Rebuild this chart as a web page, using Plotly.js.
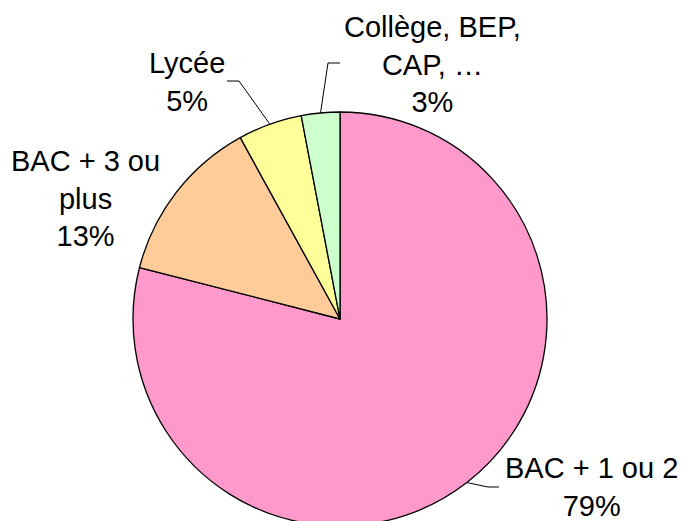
<!DOCTYPE html>
<html><head><meta charset="utf-8">
<script src="https://cdn.plot.ly/plotly-3.0.1.min.js"></script>
<style>html,body{margin:0;padding:0;overflow:hidden;background:#fff}#chart{width:681px;height:540px}</style>
</head><body><div id="chart"></div>
<script>
// Data
const labels = ["BAC + 1 ou 2", "BAC + 3 ou<br>plus", "Lycée", "Collège, BEP,<br>CAP, …"];
const values = [79, 13, 5, 3];
const percentLabels = ["79%", "13%", "5%", "3%"];
const colors = ["#FF99CC", "#FFCC99", "#FFFF99", "#CCFFCC"];

// Layout geometry (pixels)
const W = 681, H = 540;
const cx = 340, cy = 319, R = 207;
const px = x => x / W;
const py = y => 1 - y / H;

// label text centres (pixel) and leader elbows (pixel)
const labelPos = [[591, 487], [85, 198], [187, 82], [433, 65]];
const leaders = [
  {elbow: [488, 487], end: [499, 487]},
  null,
  {elbow: [239, 81], end: [227, 81]},
  {elbow: [328, 63], end: [340, 63]}
];

const total = values.reduce((a, b) => a + b, 0);
let cum = 0;
const shapes = [];
const annotations = [];
values.forEach((v, i) => {
  const mid = (cum + v / 2) / total * 2 * Math.PI;
  cum += v;
  const sx = cx + R * Math.sin(mid), sy = cy - R * Math.cos(mid);
  const L = leaders[i];
  if (L) {
    shapes.push({
      type: "path", xref: "paper", yref: "paper",
      path: `M ${px(sx)} ${py(sy)} L ${px(L.elbow[0])} ${py(L.elbow[1])} L ${px(L.end[0])} ${py(L.end[1])}`,
      line: {color: "#000", width: 1}
    });
  }
  annotations.push({
    xref: "paper", yref: "paper",
    x: px(labelPos[i][0]), y: py(labelPos[i][1]),
    xanchor: "center", yanchor: "middle",
    text: labels[i] + "<br>" + percentLabels[i],
    showarrow: false, borderpad: 0,
    font: {family: "Liberation Sans, Arial, sans-serif", size: 29, color: "#000"}
  });
});

const data = [{
  type: "pie",
  values: values,
  labels: labels,
  sort: false,
  direction: "clockwise",
  rotation: 0,
  textinfo: "none",
  hoverinfo: "none",
  marker: {colors: colors, line: {color: "#000", width: 1.3}},
  domain: {x: [(cx - R) / W, (cx + R) / W], y: [(H - cy - R) / H, (H - cy + R) / H]},
  showlegend: false
}];

const layout = {
  width: W, height: H,
  margin: {l: 0, r: 0, t: 0, b: 0},
  paper_bgcolor: "#fff",
  showlegend: false,
  shapes: shapes,
  annotations: annotations
};

Plotly.newPlot("chart", data, layout, {staticPlot: true});
</script>
</body></html>
